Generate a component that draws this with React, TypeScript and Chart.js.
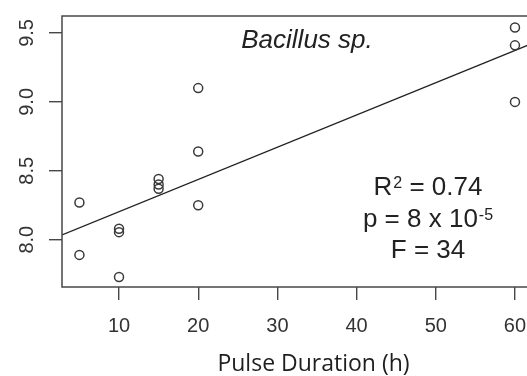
import React, { useEffect, useRef } from "react";
import { Chart, registerables } from "chart.js";

Chart.register(...registerables);

// Data
const xValues = [5, 5, 10, 10, 10, 15, 15, 15, 20, 20, 20, 60, 60, 60];
const yValues = [8.27, 7.89, 8.08, 8.055, 7.73, 8.44, 8.4, 8.37, 9.1, 8.64, 8.25, 9.54, 9.41, 9.0];
const fitX = [2.8, 62.2];
const fitY = [8.035, 9.425];
const xTicks = [10, 20, 30, 40, 50, 60];
const yTicks = [8.0, 8.5, 9.0, 9.5];
const yTickLabels = ["8.0", "8.5", "9.0", "9.5"];
const xRange = [2.8, 62.2];
const yRange = [7.657, 9.623];
const titleText = "Bacillus sp.";
const xAxisTitle = "Pulse Duration (h)";
// stats lines: [main, superscript, tail]
const statLines: [string, string, string][] = [
  ["R", "2", " = 0.74"],
  ["p = 8 x 10", "-5", ""],
  ["F = 34", "", ""],
];

const SANS = "'Liberation Sans', Arial, sans-serif";

const overlay = {
  id: "overlay",
  afterDraw(chart: any) {
    const { ctx, chartArea } = chart;
    const ys = chart.scales.y;
    ctx.save();
    // box
    ctx.strokeStyle = "#474747";
    ctx.lineWidth = 1.5;
    ctx.strokeRect(chartArea.left, chartArea.top, chartArea.right - chartArea.left, chartArea.bottom - chartArea.top);

    // y tick labels rotated
    ctx.fillStyle = "#333";
    ctx.font = `20px ${SANS}`;
    ctx.textAlign = "center";
    ctx.textBaseline = "alphabetic";
    yTicks.forEach((v, i) => {
      const py = ys.getPixelForValue(v);
      ctx.save();
      ctx.translate(chartArea.left - 29, py);
      ctx.rotate(-Math.PI / 2);
      ctx.fillText(yTickLabels[i], 0, 0);
      ctx.restore();
    });

    // title
    ctx.fillStyle = "#222";
    ctx.font = `italic 26px ${SANS}`;
    ctx.textAlign = "center";
    ctx.fillText(titleText, 307, chartArea.top + 32);

    // stats
    const cx = 428;
    const baselines = [195, 227, 258];
    const mainFont = `26px ${SANS}`;
    const supFont = `16px ${SANS}`;
    ctx.textAlign = "left";
    statLines.forEach((ln, i) => {
      ctx.font = mainFont;
      const w1 = ctx.measureText(ln[0]).width;
      const w3 = ctx.measureText(ln[2]).width;
      ctx.font = supFont;
      const w2 = ln[1] ? ctx.measureText(ln[1]).width + 1 : 0;
      const total = w1 + w2 + w3;
      let x = cx - total / 2;
      const b = baselines[i];
      ctx.font = mainFont;
      ctx.fillText(ln[0], x, b);
      x += w1;
      if (ln[1]) {
        ctx.font = supFont;
        ctx.fillText(ln[1], x + 1, b - 7.5);
        x += w2;
      }
      if (ln[2]) {
        ctx.font = mainFont;
        ctx.fillText(ln[2], x, b);
      }
    });

    // x axis title
    ctx.font = `23px 'Open Sans', 'Noto Sans', sans-serif`;
    ctx.textAlign = "center";
    ctx.fillStyle = "#1e1e1e";
    ctx.fillText(xAxisTitle, 313.5, 371);
    ctx.restore();
  },
};

export default function App() {
  const ref = useRef<HTMLCanvasElement>(null);
  useEffect(() => {
    const canvas = ref.current!;
    const points = xValues.map((x, i) => ({ x, y: yValues[i] }));
    const fit = fitX.map((x, i) => ({ x, y: fitY[i] }));
    const chart = new Chart(canvas, {
      type: "scatter",
      data: {
        datasets: [
          {
            type: "scatter",
            data: points,
            pointStyle: "circle",
            pointRadius: 4.5,
            pointBorderWidth: 1.5,
            borderColor: "#3a3a3a",
            backgroundColor: "rgba(0,0,0,0)",
          } as any,
          {
            type: "line",
            data: fit,
            borderColor: "#222",
            borderWidth: 1.4,
            pointRadius: 0,
            fill: false,
          } as any,
        ],
      },
      options: {
        animation: false,
        responsive: false,
        devicePixelRatio: 1,
        layout: { padding: { left: 0, top: 16, right: 545 - 532.4, bottom: 0 } },
        plugins: { legend: { display: false }, tooltip: { enabled: false } },
        scales: {
          x: {
            type: "linear",
            min: xRange[0],
            max: xRange[1],
            afterBuildTicks: (s: any) => {
              s.ticks = xTicks.map((v) => ({ value: v }));
            },
            afterFit: (s: any) => {
              s.height = 89;
            },
            grid: {
              drawOnChartArea: false,
              drawTicks: true,
              tickLength: 13,
              color: "#474747",
              lineWidth: 1.4,
            },
            border: { display: false },
            ticks: {
              autoSkip: false,
              maxRotation: 0,
              minRotation: 0,
              padding: 14,
              color: "#333",
              font: { family: SANS, size: 20 },
              callback: (v: any) => String(v),
            },
          },
          y: {
            type: "linear",
            min: yRange[0],
            max: yRange[1],
            afterBuildTicks: (s: any) => {
              s.ticks = yTicks.map((v) => ({ value: v }));
            },
            afterFit: (s: any) => {
              s.width = 62;
            },
            grid: {
              drawOnChartArea: false,
              drawTicks: true,
              tickLength: 13,
              color: "#474747",
              lineWidth: 1.4,
            },
            border: { display: false },
            ticks: { display: false },
          },
        },
      },
      plugins: [overlay],
    } as any);
    return () => chart.destroy();
  }, []);
  return (
    <div style={{ position: "absolute", left: 0, top: 0, width: 527, height: 376, overflow: "hidden", background: "#fff" }}>
      <canvas ref={ref} width={545} height={376} style={{ display: "block", width: 545, height: 376 }} />
    </div>
  );
}
